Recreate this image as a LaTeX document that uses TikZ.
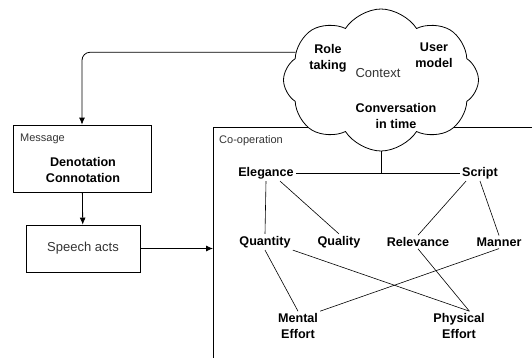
\documentclass[tikz,border=0pt]{standalone}
\usepackage{fontspec}
\setmainfont{Liberation Sans}
\usetikzlibrary{arrows.meta,shapes,shapes.symbols,positioning}
\tikzset{
  box/.style={draw,line width=0.8pt,inner sep=0pt},
  caption/.style={font=\fontsize{11}{13}\selectfont,text=black!80,inner sep=0pt},
  maxim/.style={font=\bfseries\fontsize{12.6}{16}\selectfont,align=center,inner sep=2pt},
  link/.style={line width=0.6pt},
  flow/.style={-{Latex[length=7pt,width=6pt]},line width=0.8pt}
}
\begin{document}
\begin{tikzpicture}[x=1pt,y=-1pt]
    \useasboundingbox (0,0) rectangle (532,357);
    % co-operation frame runs off the page
    \begin{scope}
        \clip (0,0) rectangle (532,357);
        \node [box,anchor=north west,minimum width=360,minimum height=260] (coop) at (213,127) {};
    \end{scope}
    \node [caption,anchor=west] (cooplabel) at (219,141) {Co-operation};
    \node [cloud,draw,fill=white,line width=0.8pt,cloud puffs=8,cloud puff arc=115,aspect=1.4,minimum width=195,minimum height=142,inner sep=0pt] (context) at (381,80) {};
    \node [caption,font=\fontsize{13}{15}\selectfont] (contextlabel) at (378,73) {Context};
    \node [maxim] (role) at (328,58) {Role\\taking};
    \node [maxim] (user) at (434,55) {User\\model};
    \node [maxim] (time) at (396,116) {Conversation\\in time};
    \node [box,minimum width=138,minimum height=67] (message) at (82,158.5) {};
    \node [caption,anchor=west] (msglabel) at (20,139) {Message};
    \node [maxim] (meaning) at (83,170) {Denotation\\Connotation};
    \node [box,minimum width=114,minimum height=47,font=\fontsize{13}{15}\selectfont,text=black!80] (speech) at (83,248.5) {Speech acts};
    \node [maxim] (elegance) at (266,173) {Elegance};
    \node [maxim] (script) at (480,173) {Script};
    \node [maxim] (quantity) at (265,242) {Quantity};
    \node [maxim] (quality) at (339,242) {Quality};
    \node [maxim] (relevance) at (418,242) {Relevance};
    \node [maxim] (manner) at (499,242) {Manner};
    \node [maxim] (mental) at (298,326) {Mental\\Effort};
    \node [maxim] (physical) at (459,326) {Physical\\Effort};
    \draw [flow,rounded corners=8pt] (context.162) -| (message.north);
    \draw [flow] (message) -- (speech);
    \draw [flow] (speech) -- (speech -| coop.west);
    \draw [link] (elegance) -- (script);
    \draw [link] (context.south) -- (context.south |- elegance);
    \draw [link] (elegance.south) -- (quantity.north);
    \draw [link] (elegance.-30) -- (quality.north);
    \draw [link] (script.-150) -- (relevance.north);
    \draw [link] (script.south) -- (manner.north);
    \draw [link] (quantity.south) -- (mental.north);
    \draw [link] (quantity.south east) -- (physical.55);
    \draw [link] (relevance.south) -- (physical.55);
    \draw [link] (manner.south) -- (mental.north east);
\end{tikzpicture}
\end{document}
